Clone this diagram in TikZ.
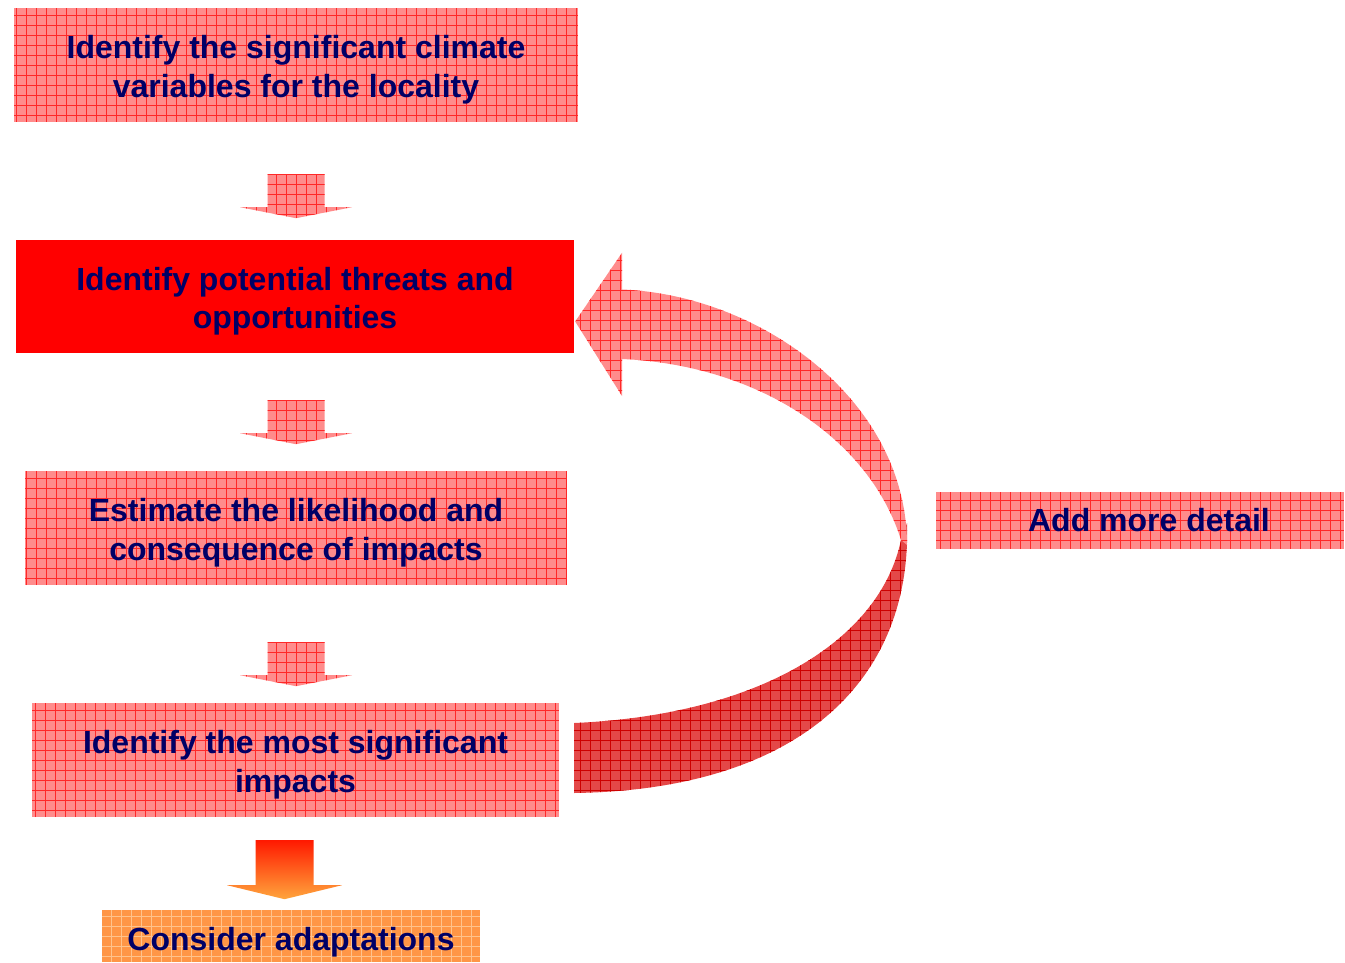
\documentclass[tikz,border=0pt]{standalone}
\usepackage{fontspec}
\setmainfont{Liberation Sans}
\usetikzlibrary{calc}
\definecolor{navy}{RGB}{0,0,102}
\definecolor{lightred}{RGB}{255,140,140}
\definecolor{gridred}{RGB}{255,40,40}
\definecolor{darkred}{RGB}{228,72,72}
\definecolor{griddark}{RGB}{205,0,0}
\definecolor{orangefill}{RGB}{255,150,70}
\definecolor{gridorange}{RGB}{255,195,140}
\definecolor{arrowtop}{RGB}{255,25,0}
\definecolor{arrowbot}{RGB}{255,165,60}
\tikzset{
  gridded/.style 2 args={fill=#1, path picture={\draw[#2, line width=0.8pt] (path picture bounding box.south west) grid[step=10pt] (path picture bounding box.north east);}},
  boxbase/.style={inner sep=0pt, minimum height=114pt},
  boxlabel/.style={font=\bfseries\fontsize{32}{38.5}\selectfont, text=navy, align=center, inner sep=0pt},
  lightbox/.style={boxbase, gridded={lightred}{gridred}},
  redbox/.style={boxbase, fill=red},
  orangebox/.style={boxbase, gridded={orangefill}{gridorange}},
  lightband/.style={gridded={lightred}{gridred}},
  darkband/.style={gridded={darkred}{griddark}},
  orangegrad/.style={top color=arrowtop, bottom color=arrowbot}
}
\newcommand\downblock[1]{%
  \begin{scope}[shift={#1}]
    \path[lightband] (-28.5,0) -- (28.5,0) -- (28.5,33) -- (56,33) -- (0,44) -- (-56,33) -- (-28.5,33) -- cycle;
  \end{scope}}
\begin{document}
\begin{tikzpicture}[x=1pt,y=-1pt]
\useasboundingbox (0,0) rectangle (1345,963);
\node[lightbox, minimum width=564pt, label={[boxlabel, yshift=-4.5pt]center:{Identify the significant climate\\variables for the locality}}] (b1) at (296,65) {};
\node[redbox, minimum width=558pt, minimum height=113pt, label={[boxlabel, yshift=-4.5pt]center:{Identify potential threats and\\opportunities}}] (b2) at (295,296.5) {};
\node[lightbox, minimum width=542pt, label={[boxlabel, yshift=-4.5pt]center:{Estimate the likelihood and\\consequence of impacts}}] (b3) at (296,528) {};
\node[lightbox, minimum width=527pt, label={[boxlabel, yshift=-4.5pt]center:{Identify the most significant\\impacts}}] (b4) at (295.5,760) {};
\node[orangebox, minimum width=378pt, minimum height=52pt, label={[boxlabel, yshift=-6pt]center:{Consider adaptations}}] (b5) at (291,936) {};
\node[lightbox, minimum width=408pt, minimum height=57pt, label={[boxlabel, xshift=9pt]center:{Add more detail}}] (b6) at (1140,520.5) {};
% straight block arrows
\downblock{($(b1.south)+(0,52)$)}
\downblock{($(b2.south)+(1,47)$)}
\downblock{($(b3.south)+(0,57)$)}
% orange arrow
\begin{scope}[shift={($(b4.south)+(-11,23)$)}]
  \shade[orangegrad] (-29,0) -- (29,0) -- (29,45) -- (57.5,45) -- (0,59) -- (-57.5,45) -- (-29,45) -- cycle;
\end{scope}
% curved feedback arrow
\coordinate (tip) at ($(b2.east)+(1,25)$);
\coordinate (tail) at ($(b4.east)+(15,0)$);
\path[darkband] ($(tail)+(0,-37)$) .. controls (760,715) and (880,640) .. (901,540) -- (907,523) .. controls (912,680) and (800,790) .. ($(tail)+(0,33)$) -- cycle;
\path[lightband] (tip) -- ++(47,-69) -- ++(0,37) .. controls (760,295) and (907,400) .. (907,545) -- (901,540) .. controls (870,440) and (760,365) .. (622,359) -- (622,396) -- cycle;
\end{tikzpicture}
\end{document}
